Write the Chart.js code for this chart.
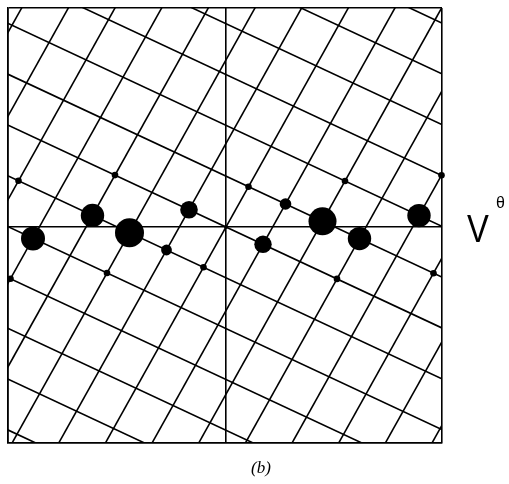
<!DOCTYPE html>
<html>
<head>
<meta charset="utf-8">
<script src="https://cdn.jsdelivr.net/npm/chart.js@4/dist/chart.umd.min.js"></script>
<style>
  html, body { margin: 0; padding: 0; background: #fff; }
  #wrap { width: 509px; height: 484px; }
</style>
</head>
<body>
<div id="wrap"><canvas id="c" width="509" height="484"></canvas></div>
<script>
// Oblique lattice basis vectors (plot units)
const latticeA = [37, -17.3];
const latticeB = [22.5, 40.3];

// Lattice rows (lines along A through j*B) and columns (lines along B through i*A)
const rowIndex = [-7, -6, -5, -4, -3, -2, -1, 0, 1, 2, 3, 4, 5, 6, 7];
const colIndex = [-9, -8, -7, -6, -5, -4, -3, -2, -1, 0, 1, 2, 3, 4, 5, 6, 7, 8, 9];

// Spots on lattice nodes: indices (i, j) and spot radius
const spotI = [0, 1, -1, 0, 0, 1, -1, 2, -2, 3, -3, 4, -4, 2, -2, 3, -3, 5, -5, 4, -4];
const spotJ = [0, 0, 0, 1, -1, 1, -1, 1, -1, 1, -1, 2, -2, 2, -2, 0, 0, 1, -1, 3, -3];
const spotRadius = [2, 8.7, 8.8, 3.3, 3.3, 5.8, 5.4, 14, 14.5, 11.7, 11.7, 11.7, 12, 3.3, 3.3, 3.3, 3.3, 3.3, 3.3, 3.3, 3.3];

// Axis extents
const xRange = [-218, 216];
const yRange = [-216, 219];

const axisLabel = 'V';
const axisLabelSup = 'θ';
const panelLabel = '(b)';

function node(i, j) {
  return {
    x: i * latticeA[0] + j * latticeB[0],
    y: i * latticeA[1] + j * latticeB[1]
  };
}

const datasets = [];

datasets.push({
  label: 'spots',
  data: spotI.map((i, k) => node(i, spotJ[k])),
  pointRadius: spotRadius,
  pointBackgroundColor: '#000',
  pointBorderWidth: 0,
  showLine: false,
  clip: false,
  order: 0
});

const span = 12;
rowIndex.forEach(j => {
  const p = node(0, j);
  datasets.push({
    data: [
      { x: p.x - span * latticeA[0], y: p.y - span * latticeA[1] },
      { x: p.x + span * latticeA[0], y: p.y + span * latticeA[1] }
    ],
    showLine: true, borderColor: '#000', borderWidth: 1.6, pointRadius: 0, order: 1
  });
});
colIndex.forEach(i => {
  const p = node(i, 0);
  datasets.push({
    data: [
      { x: p.x - span * latticeB[0], y: p.y - span * latticeB[1] },
      { x: p.x + span * latticeB[0], y: p.y + span * latticeB[1] }
    ],
    showLine: true, borderColor: '#000', borderWidth: 1.6, pointRadius: 0, order: 1
  });
});

function frameScale(range) {
  return {
    type: 'linear',
    min: range[0],
    max: range[1],
    ticks: { display: false },
    grid: { color: '#000', lineWidth: 1.6, drawTicks: false },
    border: { display: true, color: '#000', width: 1.6 },
    afterBuildTicks: s => { s.ticks = [{ value: range[0] }, { value: 0 }, { value: range[1] }]; }
  };
}

const labels = {
  id: 'labels',
  afterDraw(chart) {
    const ctx = chart.ctx;
    ctx.save();
    ctx.fillStyle = '#000';
    ctx.textBaseline = 'alphabetic';
    ctx.textAlign = 'left';
    ctx.save();
    ctx.translate(467, 242);
    ctx.scale(0.84, 1);
    ctx.font = '39px "Liberation Sans", Arial, sans-serif';
    ctx.fillText(axisLabel, 0, 0);
    ctx.restore();
    ctx.font = '16px "Liberation Sans", Arial, sans-serif';
    ctx.fillText(axisLabelSup, 496, 208);
    ctx.font = 'italic 17px "Liberation Serif", "Times New Roman", serif';
    ctx.textAlign = 'center';
    ctx.fillText(panelLabel, 261, 473);
    ctx.restore();
  }
};

new Chart(document.getElementById('c'), {
  type: 'scatter',
  data: { datasets },
  options: {
    responsive: false,
    animation: false,
    devicePixelRatio: 1,
    layout: { autoPadding: false, padding: { left: 8, top: 8, right: 67, bottom: 41 } },
    plugins: { legend: { display: false }, tooltip: { enabled: false } },
    scales: { x: frameScale(xRange), y: frameScale(yRange) }
  },
  plugins: [labels]
});
</script>
</body>
</html>
